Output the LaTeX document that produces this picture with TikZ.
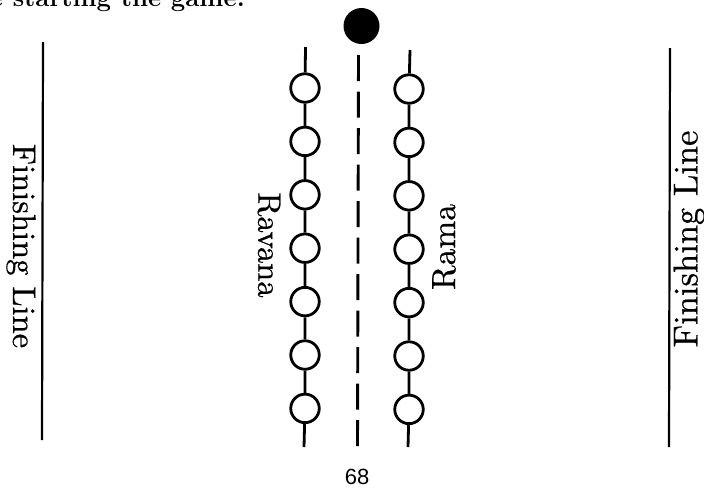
\documentclass[tikz,border=0pt]{standalone}
\usepackage{fontspec}
\newfontfamily\numfont{Liberation Sans}
\newfontfamily\labelfont{lmroman10-regular.otf}[FakeBold=0.6]
\begin{document}
\begin{tikzpicture}[x=1pt,y=-1pt,
  bead/.style={circle, draw, line width=2.8pt, minimum size=28.5pt, inner sep=0pt},
  cord/.style={line width=2.8pt},
  finish/.style={line width=2.2pt},
  midline/.style={line width=2.9pt, dash pattern=on 26pt off 10.5pt},
  ball/.style={circle, fill=black, minimum size=36pt, inner sep=0pt},
  label/.style={inner sep=0pt}]
\clip (0,0) rectangle (704,488);
\useasboundingbox (0,0) rectangle (704,488);

% running text above the figure
\node[anchor=base east, inner sep=0pt, font=\fontsize{25.7}{30}\selectfont\bfseries] (caption) at (245,6.5) {e starting the game.};

% finishing lines
\coordinate (FLtop) at (43,42);
\coordinate (FLbot) at (42,440);
\coordinate (FRtop) at (670,48);
\coordinate (FRbot) at (669,447);
\draw[finish] (FLtop) -- (FLbot);
\draw[finish] (FRtop) -- (FRbot);
\node[label, rotate=-90, font=\labelfont\fontsize{32.5}{40}\selectfont] (finL) at (21,246) {Finishing Line};
\node[label, rotate=90, font=\labelfont\fontsize{34.5}{42}\selectfont] (finR) at (689,239) {Finishing Line};

% ball and the centre line
\node[ball] (ball) at (361.5,26) {};
\coordinate (Dtop) at (358.5,55);
\coordinate (Dbot) at (357.5,448);
\draw[midline] (Dtop) -- (Dbot);

% Ravana's chain
\coordinate (Ltop) at (305.5,47);
\coordinate (Lbot) at (304,447);
\foreach \i/\y in {1/88,2/141.4,3/194.8,4/248.2,5/301.6,6/355,7/408.4}
  \node[bead] (L\i) at (305,\y) {};
\draw[cord] (Ltop) -- (L1) -- (L2) -- (L3) -- (L4) -- (L5) -- (L6) -- (L7) -- (Lbot);
\node[label, rotate=-90, font=\labelfont\fontsize{32.5}{40}\selectfont] (ravana) at (269,245) {Ravana};

% Rama's chain
\coordinate (Rtop) at (410,50);
\coordinate (Rbot) at (408,447);
\foreach \i/\y in {1/89,2/142.4,3/195.8,4/249.2,5/302.6,6/356,7/409.4}
  \node[bead] (R\i) at (409,\y) {};
\draw[cord] (Rtop) -- (R1) -- (R2) -- (R3) -- (R4) -- (R5) -- (R6) -- (R7) -- (Rbot);
\node[label, rotate=90, font=\labelfont\fontsize{33.5}{40}\selectfont] (rama) at (444,247) {Rama};

% page number
\node[font=\numfont\fontsize{22}{26}\selectfont, inner sep=0pt] (page) at (357,477) {68};
\end{tikzpicture}
\end{document}
